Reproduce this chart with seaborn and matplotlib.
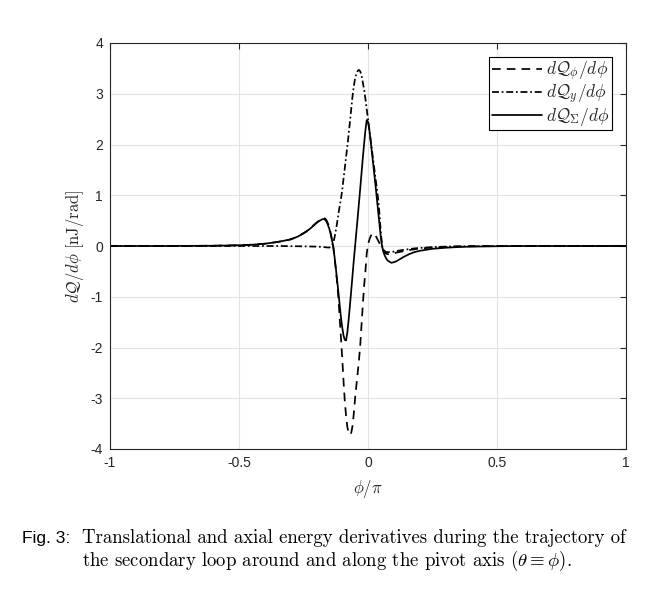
import numpy as np
import pandas as pd
import matplotlib
matplotlib.use("Agg")
import matplotlib.pyplot as plt
import seaborn as sns

# ---------------- data ----------------
phi_pi = [
    -1.0, -0.8, -0.6, -0.5, -0.45, -0.4, -0.35, -0.3, -0.27, -0.24, -0.22, -0.2, -0.19, -0.18,
    -0.175, -0.17, -0.165, -0.16, -0.155, -0.15, -0.145,
    -0.14, -0.135, -0.13, -0.125, -0.12, -0.115, -0.11, -0.105, -0.10, -0.095, -0.09, -0.085,
    -0.08, -0.075, -0.07, -0.065, -0.06, -0.055, -0.05, -0.045, -0.04, -0.035, -0.03, -0.025,
    -0.02, -0.015, -0.01, -0.005, 0.0, 0.005, 0.01, 0.015, 0.02, 0.025, 0.03, 0.035, 0.04,
    0.045, 0.05, 0.055, 0.06, 0.065, 0.07,
    0.075, 0.08, 0.09, 0.1, 0.11, 0.12, 0.14, 0.16, 0.18, 0.2, 0.25, 0.3, 0.35, 0.4, 0.5, 0.6,
    0.8, 1.0,
]

dQ_sigma = [
    0.0, 0.0, 0.005, 0.015, 0.025, 0.045, 0.08, 0.13, 0.19, 0.28, 0.36, 0.45, 0.49, 0.52,
    0.53, 0.53, 0.51, 0.47, 0.41, 0.34, 0.24,
    0.12, 0.0, -0.2, -0.42, -0.66, -0.9, -1.15, -1.4, -1.6, -1.76, -1.85, -1.86,
    -1.7, -1.45, -1.17, -0.88, -0.58, -0.28, 0.0, 0.28, 0.56, 0.85, 1.14, 1.44,
    1.74, 2.02, 2.28, 2.48, 2.45, 2.3, 2.08, 1.85, 1.62, 1.39, 1.15, 0.9, 0.65,
    0.4, 0.15, -0.02, -0.12, -0.19, -0.24,
    -0.28, -0.3, -0.33, -0.32, -0.3, -0.27, -0.21, -0.16, -0.12, -0.095, -0.055, -0.035, -0.02,
    -0.012, -0.005, 0.0, 0.0, 0.0,
]

dQ_phi = [
    0.0, 0.0, 0.005, 0.015, 0.025, 0.045, 0.08, 0.13, 0.19, 0.285, 0.37, 0.46, 0.5, 0.535,
    0.55, 0.555, 0.535, 0.5, 0.44, 0.37, 0.26,
    0.14, 0.0, -0.22, -0.45, -0.7, -1.0, -1.4, -1.8, -2.2, -2.65, -3.05, -3.35,
    -3.57, -3.68, -3.72, -3.68, -3.55, -3.3, -3.0, -2.75, -2.5, -2.25, -1.95, -1.55,
    -1.15, -0.78, -0.5, -0.15, 0.03, 0.12, 0.19, 0.23, 0.25, 0.24, 0.2, 0.15, 0.1,
    0.05, 0.01, -0.04, -0.09, -0.13, -0.15,
    -0.16, -0.16, -0.155, -0.145, -0.13, -0.12, -0.1, -0.08, -0.065, -0.05, -0.03, -0.018, -0.01,
    -0.006, -0.002, 0.0, 0.0, 0.0,
]

dQ_y = [
    0.0, 0.0, 0.0, 0.0, 0.0, 0.0, 0.0, -0.003, -0.005, -0.008, -0.01, -0.012, -0.015, -0.017,
    -0.02, -0.022, -0.025, -0.028, -0.03, -0.03, -0.02,
    0.0, 0.06, 0.16, 0.3, 0.45, 0.62, 0.78, 0.92, 1.1, 1.32, 1.53, 1.75,
    1.97, 2.2, 2.45, 2.7, 2.95, 3.15, 3.3, 3.4, 3.45, 3.47, 3.44, 3.36,
    3.22, 3.08, 2.9, 2.7, 2.5, 2.3, 2.1, 1.9, 1.7, 1.5, 1.3, 1.1, 0.9,
    0.6, 0.25, 0.0, -0.07, -0.1, -0.12,
    -0.12, -0.12, -0.12, -0.11, -0.1, -0.09, -0.075, -0.06, -0.048, -0.038, -0.022, -0.012, -0.006,
    -0.003, 0.0, 0.0, 0.0, 0.0,
]

x_ticks = [-1, -0.5, 0, 0.5, 1]
x_ticklabels = ["-1", "-0.5", "0", "0.5", "1"]
y_ticks = [-4, -3, -2, -1, 0, 1, 2, 3, 4]
y_ticklabels = ["-4", "-3", "-2", "-1", "0", "1", "2", "3", "4"]

labels = [r"$d\mathcal{Q}_{\phi}/d\phi$", r"$d\mathcal{Q}_{y}/d\phi$", r"$d\mathcal{Q}_{\Sigma}/d\phi$"]

# ---------------- style ----------------
sns.set_style("white")
plt.rcParams["font.family"] = ["Liberation Sans", "DejaVu Sans"]
plt.rcParams["mathtext.fontset"] = "cm"
plt.rcParams["axes.unicode_minus"] = False

dark = "#262626"

df = pd.DataFrame({
    "x": phi_pi * 3,
    "v": dQ_phi + dQ_y + dQ_sigma,
    "s": [labels[0]] * len(phi_pi) + [labels[1]] * len(phi_pi) + [labels[2]] * len(phi_pi),
})

fig = plt.figure(figsize=(6.68, 6.03), dpi=100)
ax = fig.add_axes([110 / 668, (603 - 449) / 603, (626 - 110) / 668, (449 - 43) / 603])

styles = {
    labels[0]: (0, (5.0, 3.5)),
    labels[1]: (0, (4.0, 1.6, 1.0, 1.6)),
    labels[2]: "-",
}
for lab in labels:
    sub = df[df["s"] == lab]
    sns.lineplot(data=sub, x="x", y="v", ax=ax, color="black", lw=1.25,
                 linestyle=styles[lab], label=lab, sort=False, estimator=None)

ax.set_xlim(-1, 1)
ax.set_ylim(-4, 4)
ax.set_xticks(x_ticks)
ax.set_xticklabels(x_ticklabels)
ax.set_yticks(y_ticks)
ax.set_yticklabels(y_ticklabels)
ax.grid(True, color="#e2e2e2", lw=0.8)
ax.set_axisbelow(True)
for sp in ax.spines.values():
    sp.set_visible(True)
    sp.set_color(dark)
    sp.set_linewidth(0.8)
ax.tick_params(direction="in", length=4, width=0.8, colors=dark, labelsize=10,
               top=True, right=True, labeltop=False, labelright=False, pad=5)

ax.set_xlabel(r"$\phi/\pi$", fontsize=12, color=dark, labelpad=6)
ax.set_ylabel(r"$d\mathcal{Q}/d\phi\ [\mathrm{nJ/rad}]$", fontsize=12, color=dark, labelpad=3)

leg = ax.legend(loc="upper right", fontsize=12.5, frameon=True, fancybox=False,
                edgecolor="black", framealpha=1, handlelength=2.9, handletextpad=0.2,
                borderpad=0.15, labelspacing=0.0, borderaxespad=0.8)
leg.get_frame().set_linewidth(0.8)

fig.text(22 / 668, 1 - 538 / 603, "Fig. 3:", fontsize=12.5, family="Liberation Sans",
         va="center", ha="left", color="black")
fig.text(82 / 668, 1 - 538 / 603,
         "Translational and axial energy derivatives during the trajectory of",
         fontsize=13.5, family="cmr10", va="center", ha="left", color="black")
fig.text(82 / 668, 1 - 561 / 603,
         r"the secondary loop around and along the pivot axis ($\theta \equiv \phi$).",
         fontsize=13.5, family="cmr10", va="center", ha="left", color="black")

fig.savefig("out.png", dpi=100, facecolor="white")
